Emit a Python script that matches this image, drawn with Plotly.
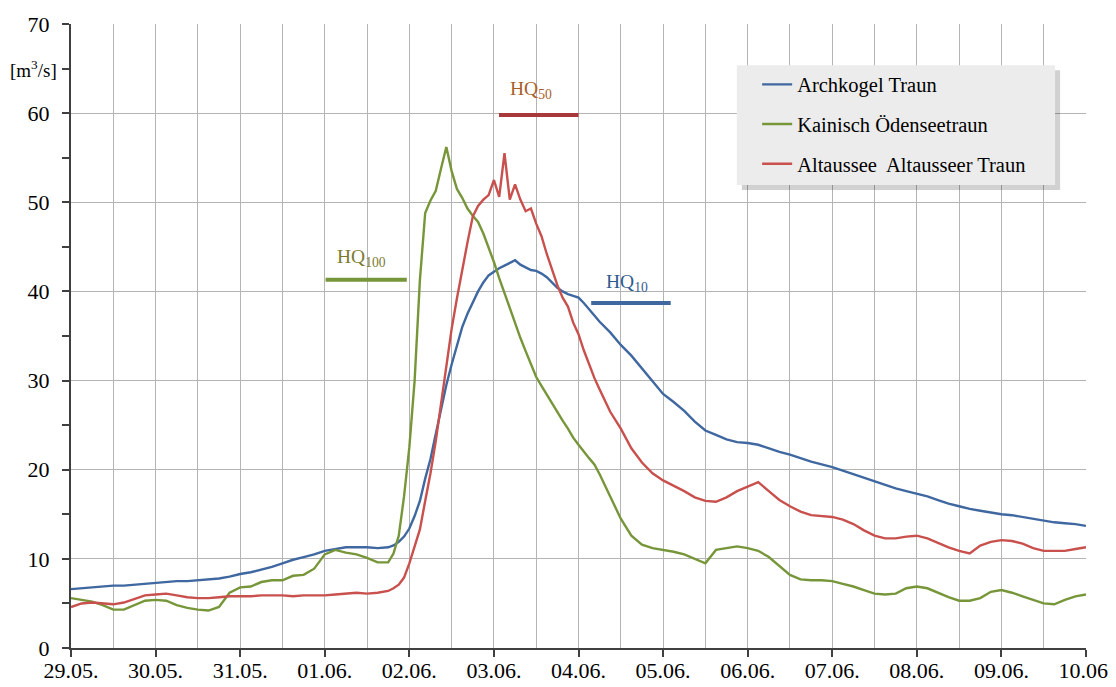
import plotly.graph_objects as go

# ---- time axis (hours since 29.05. 00:00) ----
hours = list(range(0, 90, 3)) + [90 + 1.5 * i for i in range(40)] + list(range(150, 289, 3))
days = [h / 24 for h in hours]

tick_days = list(range(13))
tick_labels = ["29.05.", "30.05.", "31.05.", "01.06.", "02.06.", "03.06.", "04.06.",
               "05.06.", "06.06.", "07.06.", "08.06.", "09.06.", "10.06."]

# ---- discharge [m3/s] ----
q_archkogel = [
    6.6, 6.7, 6.8, 6.9, 7.0, 7.0, 7.1, 7.2, 7.3, 7.4, 7.5, 7.5, 7.6, 7.7, 7.8, 8.0, 8.3, 8.5, 8.8, 9.1,
    9.5, 9.9, 10.2, 10.5, 10.9, 11.1, 11.3, 11.3, 11.3, 11.2,
    11.3, 11.5, 11.9, 12.5, 13.4, 14.8, 16.5, 19.0, 21.2, 24.0, 26.8, 29.5, 31.8, 34.0, 36.0, 37.5,
    38.8, 40.0, 41.0, 41.8, 42.2, 42.6, 42.9, 43.2, 43.5, 43.0, 42.7, 42.4, 42.3, 42.0, 41.6, 41.0,
    40.4, 40.0, 39.7, 39.5, 39.3, 38.7, 38.0, 37.3,
    36.6, 35.4, 34.0, 32.8, 31.4, 30.0, 28.5, 27.6, 26.6, 25.4, 24.4, 23.9, 23.4, 23.1, 23.0, 22.8,
    22.4, 22.0, 21.7, 21.3, 20.9, 20.6, 20.3, 19.9, 19.5, 19.1, 18.7, 18.3, 17.9, 17.6, 17.3, 17.0,
    16.6, 16.2, 15.9, 15.6, 15.4, 15.2, 15.0, 14.9, 14.7, 14.5, 14.3, 14.1, 14.0, 13.9, 13.7,
]
q_kainisch = [
    5.6, 5.4, 5.2, 4.8, 4.3, 4.3, 4.8, 5.3, 5.4, 5.3, 4.8, 4.5, 4.3, 4.2, 4.6, 6.2, 6.8, 6.9, 7.4, 7.6,
    7.6, 8.1, 8.2, 8.9, 10.5, 11.0, 10.7, 10.5, 10.1, 9.6,
    9.6, 10.6, 12.6, 17.0, 22.5, 30.0, 41.3, 48.8, 50.2, 51.3, 53.8, 56.2, 53.5, 51.5, 50.5, 49.3,
    48.5, 47.8, 46.5, 45.0, 43.3, 41.5, 39.8, 38.0, 36.4, 34.8, 33.3, 31.8, 30.4, 29.4, 28.4, 27.4,
    26.5, 25.5, 24.6, 23.6, 22.8, 22.0, 21.3, 20.6,
    19.5, 17.0, 14.5, 12.6, 11.6, 11.2, 11.0, 10.8, 10.5, 10.0, 9.5, 11.0, 11.2, 11.4, 11.2, 10.9,
    10.2, 9.2, 8.2, 7.7, 7.6, 7.6, 7.5, 7.2, 6.9, 6.5, 6.1, 6.0, 6.1, 6.7, 6.9, 6.7,
    6.2, 5.7, 5.3, 5.3, 5.6, 6.3, 6.5, 6.2, 5.8, 5.4, 5.0, 4.9, 5.4, 5.8, 6.0,
]
q_altaussee = [
    4.6, 5.0, 5.1, 5.0, 4.9, 5.1, 5.5, 5.9, 6.0, 6.1, 5.9, 5.7, 5.6, 5.6, 5.7, 5.8, 5.8, 5.8, 5.9, 5.9,
    5.9, 5.8, 5.9, 5.9, 5.9, 6.0, 6.1, 6.2, 6.1, 6.2,
    6.4, 6.7, 7.1, 7.9, 9.5, 11.3, 13.3, 16.5, 19.6, 23.2, 27.5, 31.8, 35.8, 39.2, 42.5, 45.5,
    48.4, 49.6, 50.3, 50.8, 52.5, 50.6, 55.5, 50.3, 52.0, 50.3, 49.0, 49.3, 47.6, 46.2, 44.2, 42.5,
    40.7, 39.3, 38.3, 36.5, 35.2, 33.4, 31.8, 30.3,
    29.0, 26.5, 24.6, 22.4, 20.8, 19.6, 18.8, 18.2, 17.6, 16.9, 16.5, 16.4, 16.9, 17.6, 18.1, 18.6,
    17.6, 16.6, 15.9, 15.3, 14.9, 14.8, 14.7, 14.4, 13.9, 13.2, 12.6, 12.3, 12.3, 12.5, 12.6, 12.3,
    11.8, 11.3, 10.9, 10.6, 11.5, 11.9, 12.1, 12.0, 11.7, 11.2, 10.9, 10.9, 10.9, 11.1, 11.3,
]

series_names = ["Archkogel Traun", "Kainisch Ödenseetraun", "Altaussee  Altausseer Traun"]
series_colors = ["#3f67a0", "#77963a", "#c8504d"]

# ---- flood reference levels ----
hq_labels = ["HQ<sub>100</sub>", "HQ<sub>50</sub>", "HQ<sub>10</sub>"]
hq_start = [3.01, 5.06, 6.15]
hq_end = [3.97, 6.00, 7.09]
hq_value = [41.3, 59.8, 38.7]
hq_line_colors = ["#77963a", "#a8383a", "#3f67a0"]
hq_text_colors = ["#7d7a30", "#a8602a", "#2f5a8f"]
hq_label_x = [3.44, 5.44, 6.57]
hq_label_y = [43.8, 62.6, 41.0]

FONT = "Liberation Serif, Times New Roman, DejaVu Serif, serif"

fig = go.Figure()
for name, q, c in zip(series_names, [q_archkogel, q_kainisch, q_altaussee], series_colors):
    fig.add_trace(go.Scatter(x=days, y=q, mode="lines", name=name, legendgroup=name,
                             line=dict(color=c, width=2.4)))

for lab, x0, x1, v, lc, tc, lx, ly in zip(hq_labels, hq_start, hq_end, hq_value,
                                          hq_line_colors, hq_text_colors, hq_label_x, hq_label_y):
    fig.add_trace(go.Scatter(x=[x0, x1], y=[v, v], mode="lines", showlegend=False,
                             line=dict(color=lc, width=4)))
    fig.add_annotation(x=lx, y=ly, text=lab, showarrow=False,
                       font=dict(family=FONT, size=19.5, color=tc))

# y axis unit label
fig.add_annotation(xref="paper", yref="y", x=-0.0118, xanchor="right", y=65,
                   text="[m<sup>3</sup>/s]", showarrow=False,
                   font=dict(family=FONT, size=19, color="#000000"))

# legend box + shadow
lx0, lx1, ly0, ly1 = 0.656, 0.9695, 0.742, 0.934
fig.add_shape(type="rect", xref="paper", yref="paper", x0=lx0 + 0.005, x1=lx1 + 0.005,
              y0=ly0 - 0.008, y1=ly1 - 0.008, line=dict(width=0),
              fillcolor="rgba(0,0,0,0.18)", layer="above")
fig.add_shape(type="rect", xref="paper", yref="paper", x0=lx0, x1=lx1, y0=ly0, y1=ly1,
              line=dict(width=0), fillcolor="#ececec", layer="above")

# page body has an 8px margin: figure spans window x 8..1116, y 8..687
fig.update_layout(
    width=1108, height=679,
    margin=dict(l=63, r=30, t=16, b=39),
    paper_bgcolor="white", plot_bgcolor="white",
    font=dict(family=FONT, size=22, color="#000000"),
    showlegend=True,
    legend=dict(x=0.676, y=0.935, xanchor="left", yanchor="top",
                bgcolor="rgba(0,0,0,0)", borderwidth=0,
                font=dict(family=FONT, size=20.5, color="#000000"),
                traceorder="grouped", tracegroupgap=10, itemwidth=30),
    xaxis=dict(range=[0, 12], tickvals=tick_days, ticktext=tick_labels, automargin=False,
               showgrid=True, gridcolor="#b4b4b4", gridwidth=1,
               ticks="outside", ticklen=7, tickcolor="#404040", tickwidth=2,
               showline=True, linecolor="#404040", linewidth=2,
               zeroline=False, tickfont=dict(family=FONT, size=22),
               minor=dict(dtick=0.5, tick0=0, showgrid=True, gridcolor="#b4b4b4",
                          gridwidth=1, ticks="")),
    yaxis=dict(range=[0, 70], dtick=10, tick0=0, automargin=False,
               showgrid=True, gridcolor="#b4b4b4", gridwidth=1,
               ticks="outside", ticklen=7, tickcolor="#404040", tickwidth=2,
               showline=True, linecolor="#404040", linewidth=2,
               zeroline=False, tickfont=dict(family=FONT, size=22), ticklabelstandoff=8,
               minor=dict(dtick=5, tick0=0, showgrid=False, ticks="outside",
                          ticklen=7, tickcolor="#404040", tickwidth=2)),
)
try:
    fig.update_xaxes(ticklabelstandoff=-5)
except ValueError:
    pass

fig.write_html("out.html")
